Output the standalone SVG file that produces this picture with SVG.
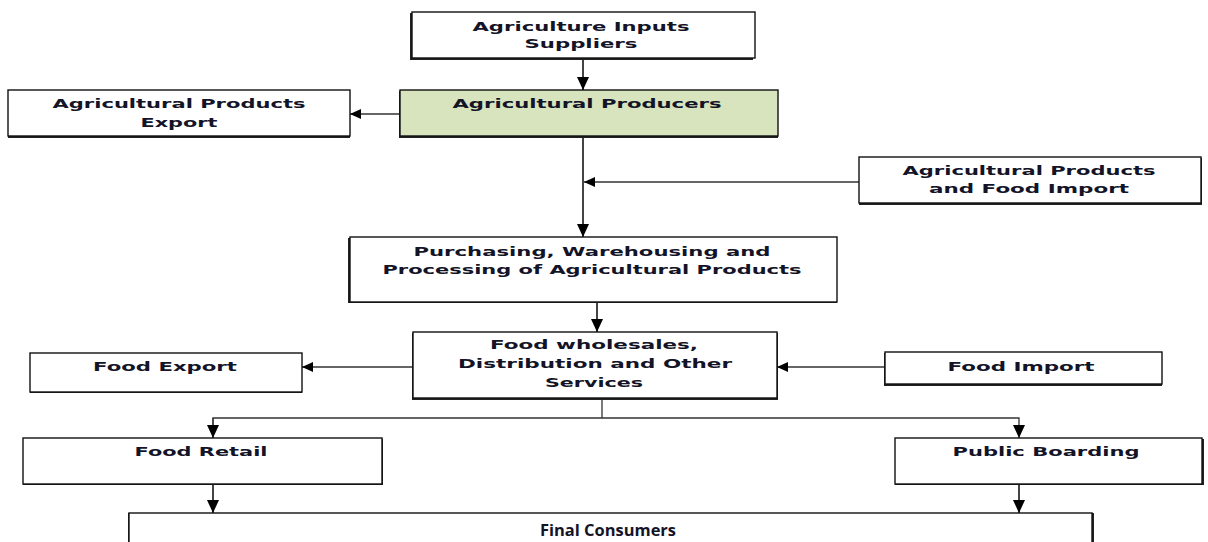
<svg xmlns="http://www.w3.org/2000/svg" width="1208" height="542" viewBox="0 0 1208 542">
<defs>
<style>
.box{fill:#fff;stroke:#111;stroke-width:1.4}
.sh{fill:#222}
.green{fill:#d7e4bd}
.t{font-family:"DejaVu Sans",Verdana,sans-serif;font-weight:bold;font-size:12.5px;fill:#141428;text-anchor:middle}
.tf{font-family:"Open Sans","DejaVu Sans",sans-serif;font-weight:bold;font-size:16px;fill:#141428;text-anchor:middle}
.c{fill:none;stroke:#333;stroke-width:1.3}
.cm{fill:none;stroke:#444;stroke-width:2}
</style>
<marker id="ah" markerUnits="userSpaceOnUse" markerWidth="14" markerHeight="12" viewBox="0 0 14 12" refX="13" refY="6" orient="auto">
<path d="M0,0 L13,6 L0,12 Z" fill="#000"/>
</marker>
<marker id="ahs" markerUnits="userSpaceOnUse" markerWidth="12" markerHeight="10" viewBox="0 0 12 10" refX="11" refY="5" orient="auto">
<path d="M0,0 L11,5 L0,10 Z" fill="#000"/>
</marker>
</defs>
<rect width="1208" height="542" fill="#fff"/>

<g id="connectors">
<line class="cm" x1="583" y1="58" x2="583" y2="90" marker-end="url(#ah)"/>
<line class="c" x1="400" y1="114" x2="350" y2="114" marker-end="url(#ahs)"/>
<line class="cm" x1="583" y1="136" x2="583" y2="237" marker-end="url(#ah)"/>
<line class="c" x1="859" y1="182" x2="584" y2="182" marker-end="url(#ahs)"/>
<line class="cm" x1="597" y1="302" x2="597" y2="332" marker-end="url(#ah)"/>
<line class="c" x1="413" y1="367" x2="302" y2="367" marker-end="url(#ahs)"/>
<line class="c" x1="885" y1="367" x2="777" y2="367" marker-end="url(#ahs)"/>
<polyline class="c" points="602,398 602,418"/>
<polyline class="c" points="213,438 213,418 1019,418 1019,438" marker-end="url(#ah)"/>
<line class="c" x1="213" y1="418" x2="213" y2="438" marker-end="url(#ah)"/>
<line class="cm" x1="213" y1="484" x2="213" y2="513" marker-end="url(#ah)"/>
<line class="cm" x1="1019" y1="484" x2="1019" y2="513" marker-end="url(#ah)"/>
</g>

<g id="agri-inputs">
<rect class="sh" x="410" y="13" width="343" height="47"/>
<rect class="box" x="412" y="12" width="343" height="46"/>
<text class="t" x="581" y="31" textLength="217" lengthAdjust="spacingAndGlyphs">Agriculture Inputs</text>
<text class="t" x="581" y="48" textLength="113" lengthAdjust="spacingAndGlyphs">Suppliers</text>
</g>

<g id="agri-producers">
<rect class="sh" x="399" y="91" width="379" height="47"/>
<rect class="box green" x="400" y="90" width="378" height="46"/>
<text class="t" x="587" y="108" textLength="269" lengthAdjust="spacingAndGlyphs">Agricultural Producers</text>
</g>

<g id="agri-export">
<rect class="sh" x="8" y="91" width="342" height="47"/>
<rect class="box" x="8" y="90" width="342" height="46"/>
<text class="t" x="179" y="108" textLength="253" lengthAdjust="spacingAndGlyphs">Agricultural Products</text>
<text class="t" x="179" y="127" textLength="77" lengthAdjust="spacingAndGlyphs">Export</text>
</g>

<g id="agri-import">
<rect class="sh" x="859" y="158" width="343" height="47"/>
<rect class="box" x="859" y="157" width="342" height="46"/>
<text class="t" x="1029" y="175" textLength="253" lengthAdjust="spacingAndGlyphs">Agricultural Products</text>
<text class="t" x="1029" y="193" textLength="200" lengthAdjust="spacingAndGlyphs">and Food Import</text>
</g>

<g id="purchasing">
<rect class="sh" x="348" y="238" width="489" height="65"/>
<rect class="box" x="350" y="237" width="487" height="65"/>
<text class="t" x="592" y="256" textLength="357" lengthAdjust="spacingAndGlyphs">Purchasing, Warehousing and</text>
<text class="t" x="592" y="274" textLength="419" lengthAdjust="spacingAndGlyphs">Processing of Agricultural Products</text>
</g>

<g id="wholesale">
<rect class="sh" x="412" y="333" width="366" height="67"/>
<rect class="box" x="413" y="332" width="364" height="66"/>
<text class="t" x="594" y="349" textLength="208" lengthAdjust="spacingAndGlyphs">Food wholesales,</text>
<text class="t" x="595" y="368" textLength="274" lengthAdjust="spacingAndGlyphs">Distribution and Other</text>
<text class="t" x="594" y="387" textLength="98" lengthAdjust="spacingAndGlyphs">Services</text>
</g>

<g id="food-export">
<rect class="sh" x="30" y="354" width="272" height="39"/>
<rect class="box" x="30" y="353" width="272" height="39"/>
<text class="t" x="165" y="371" textLength="144" lengthAdjust="spacingAndGlyphs">Food Export</text>
</g>

<g id="food-import">
<rect class="sh" x="884" y="353" width="278" height="33"/>
<rect class="box" x="885" y="352" width="277" height="32"/>
<text class="t" x="1021" y="371" textLength="147" lengthAdjust="spacingAndGlyphs">Food Import</text>
</g>

<g id="food-retail">
<rect class="sh" x="23" y="439" width="360" height="46"/>
<rect class="box" x="23" y="438" width="359" height="46"/>
<text class="t" x="201" y="456" textLength="133" lengthAdjust="spacingAndGlyphs">Food Retail</text>
</g>

<g id="public-boarding">
<rect class="sh" x="895" y="439" width="309" height="46"/>
<rect class="box" x="895" y="438" width="307" height="46"/>
<text class="t" x="1046" y="456" textLength="187" lengthAdjust="spacingAndGlyphs">Public Boarding</text>
</g>

<g id="final-consumers">
<rect class="sh" x="128" y="513" width="966" height="40"/>
<rect class="box" x="129" y="513" width="963" height="40"/>
<text class="tf" x="608" y="536" textLength="136" lengthAdjust="spacingAndGlyphs">Final Consumers</text>
</g>
</svg>
